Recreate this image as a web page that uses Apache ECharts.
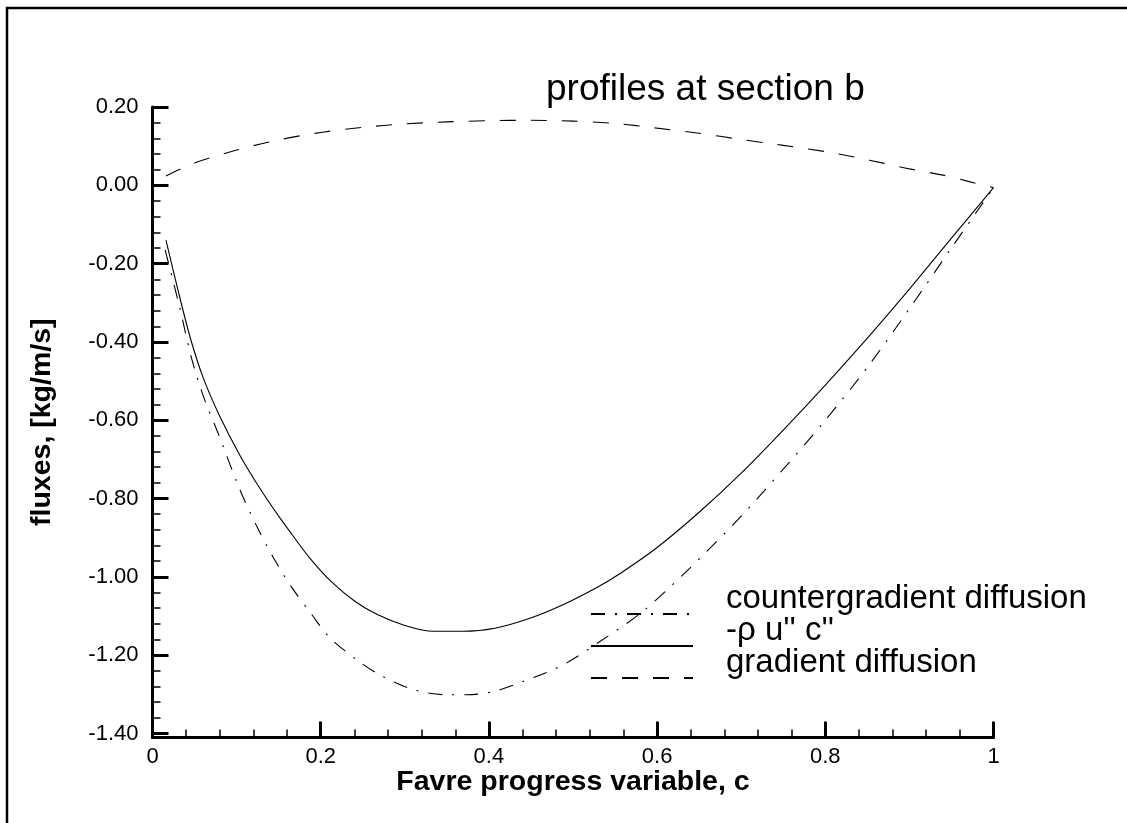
<!DOCTYPE html>
<html>
<head>
<meta charset="utf-8">
<script src="https://cdn.jsdelivr.net/npm/echarts@6/dist/echarts.min.js"></script>
<style>
  html, body { margin: 0; padding: 0; background: #fff; }
  #chart { width: 1127px; height: 823px; }
</style>
</head>
<body>
<div id="chart"></div>
<script>
// Gradient diffusion model (dashed)
const cGradient = [0.016, 0.05, 0.1, 0.15, 0.2, 0.25, 0.3, 0.35, 0.4, 0.45, 0.5, 0.55, 0.6, 0.65, 0.7, 0.75, 0.8, 0.835, 0.87, 0.9, 0.94, 0.97, 1.0];
const vGradient = [0.024, 0.057, 0.090, 0.116, 0.135, 0.148, 0.157, 0.162, 0.165, 0.166, 0.164, 0.158, 0.146, 0.133, 0.117, 0.102, 0.086, 0.072, 0.056, 0.042, 0.026, 0.010, -0.006];

// Turbulent flux -rho u'' c'' (solid)
const cFlux = [0.016, 0.03, 0.045, 0.06, 0.08, 0.104, 0.128, 0.15, 0.167, 0.187, 0.213, 0.241, 0.268, 0.30, 0.334, 0.37, 0.407, 0.447, 0.488, 0.53, 0.557, 0.6, 0.65, 0.7, 0.75, 0.8, 0.85, 0.879, 0.9, 0.95, 1.0];
const vFlux = [-0.14, -0.265, -0.39, -0.49, -0.59, -0.69, -0.775, -0.845, -0.895, -0.952, -1.013, -1.063, -1.097, -1.124, -1.139, -1.139, -1.131, -1.107, -1.071, -1.025, -0.99, -0.925, -0.835, -0.735, -0.625, -0.51, -0.39, -0.318, -0.265, -0.135, -0.006];

// Countergradient diffusion model (dash-dot)
const cCounter = [0.015, 0.031, 0.047, 0.062, 0.078, 0.104, 0.124, 0.144, 0.165, 0.19, 0.211, 0.243, 0.27, 0.31, 0.35, 0.374, 0.405, 0.441, 0.488, 0.532, 0.582, 0.633, 0.7, 0.75, 0.8, 0.85, 0.9, 0.95, 1.0];
const vCounter = [-0.165, -0.30, -0.446, -0.548, -0.633, -0.778, -0.871, -0.952, -1.025, -1.098, -1.156, -1.212, -1.25, -1.288, -1.301, -1.301, -1.293, -1.267, -1.225, -1.165, -1.09, -0.99, -0.845, -0.725, -0.60, -0.465, -0.315, -0.16, -0.006];

const seriesNames = ['countergradient diffusion', "-\u03c1 u'' c''", 'gradient diffusion'];
const titleText = 'profiles at section b';
const xName = 'Favre progress variable, c';
const yName = 'fluxes, [kg/m/s]';

const yMajorTicks = [-1.4, -1.2, -1.0, -0.8, -0.6, -0.4, -0.2, 0.0, 0.2];
const yMinorTicks = [];
for (let i = 0; i < yMajorTicks.length - 1; i++) {
  for (let k = 1; k < 5; k++) {
    yMinorTicks.push(+(yMajorTicks[i] + k * 0.04).toFixed(2));
  }
}

const Y_MIN = -1.4102;
const Y_MAX = 0.2;
const FONT = "'Liberation Sans', Arial, Helvetica, sans-serif";

const zip = (xs, ys) => xs.map((x, i) => [x, ys[i]]);

const chart = echarts.init(document.getElementById('chart'), null, { renderer: 'canvas' });

// Each legend row: the sample line sits just below the text baseline
const legendBase = {
  orient: 'vertical',
  left: 585,
  itemWidth: 102,
  itemHeight: 14,
  selectedMode: false,
  itemStyle: { opacity: 0 },
  formatter: name => '{t|' + name + '}\n{g| }',
  textStyle: {
    rich: {
      t: { fontFamily: FONT, fontSize: 33, color: '#000', padding: [0, 0, 0, 28] },
      g: { fontSize: 2, lineHeight: 31, height: 31 }
    }
  }
};

chart.setOption({
  backgroundColor: '#fff',
  animation: false,
  title: {
    text: titleText,
    left: 541,
    top: 66,
    textStyle: { fontFamily: FONT, fontSize: 37, fontWeight: 'normal', color: '#000' }
  },
  legend: [
    Object.assign({}, legendBase, { top: 577, data: [seriesNames[0]] }),
    Object.assign({}, legendBase, { top: 609, data: [seriesNames[1]] }),
    Object.assign({}, legendBase, { top: 641, data: [seriesNames[2]] })
  ],
  graphic: [{
    type: 'rect',
    silent: true,
    shape: { x: 7, y: 8, width: 1300, height: 1000 },
    style: { fill: 'none', stroke: '#000', lineWidth: 2.5 }
  }],
  grid: { left: 152.5, right: 133.5, top: 107, bottom: 85.5, containLabel: false },
  xAxis: {
    type: 'value',
    min: 0, max: 1, interval: 0.2,
    axisLine: { show: true, onZero: false, lineStyle: { color: '#000', width: 3 } },
    axisTick: { show: true, inside: true, length: 16, lineStyle: { color: '#000', width: 3 } },
    minorTick: { show: true, splitNumber: 5, length: 8, lineStyle: { color: '#000', width: 1.5 } },
    axisLabel: { fontFamily: FONT, fontSize: 22, color: '#000', margin: 8 },
    splitLine: { show: false },
    name: xName,
    nameLocation: 'middle',
    nameGap: 30,
    nameMoveOverlap: false,
    nameTextStyle: { fontFamily: FONT, fontSize: 28.5, fontWeight: 'bold', color: '#000' }
  },
  yAxis: [{
    type: 'value',
    min: Y_MIN, max: Y_MAX,
    position: 'left',
    axisLine: { show: true, onZero: false, lineStyle: { color: '#000', width: 3 } },
    axisTick: { show: true, inside: true, length: 16, customValues: yMajorTicks, lineStyle: { color: '#000', width: 3 } },
    axisLabel: { customValues: yMajorTicks, formatter: v => v.toFixed(2), fontFamily: FONT, fontSize: 22, color: '#000', margin: 14 },
    splitLine: { show: false },
    name: yName,
    nameLocation: 'middle',
    nameGap: 96,
    nameTextStyle: { fontFamily: FONT, fontSize: 28.5, fontWeight: 'bold', color: '#000' }
  }, {
    type: 'value',
    min: Y_MIN, max: Y_MAX,
    position: 'left',
    axisLine: { show: false },
    axisTick: { show: true, inside: true, length: 8, customValues: yMinorTicks, lineStyle: { color: '#000', width: 1.5 } },
    axisLabel: { show: false },
    splitLine: { show: false }
  }],
  series: [{
    name: seriesNames[0],
    type: 'line',
    data: zip(cCounter, vCounter),
    symbol: 'none',
    smooth: 0.3,
    lineStyle: { color: '#000', width: 1.1, type: [14, 10, 2, 10] },
    itemStyle: { color: '#000' }
  }, {
    name: seriesNames[1],
    type: 'line',
    data: zip(cFlux, vFlux),
    symbol: 'none',
    smooth: 0.3,
    lineStyle: { color: '#000', width: 1.1, type: 'solid' },
    itemStyle: { color: '#000' }
  }, {
    name: seriesNames[2],
    type: 'line',
    data: zip(cGradient, vGradient),
    symbol: 'none',
    smooth: 0.3,
    lineStyle: { color: '#000', width: 1.1, type: [16, 15] },
    itemStyle: { color: '#000' }
  }]
});
</script>
</body>
</html>
